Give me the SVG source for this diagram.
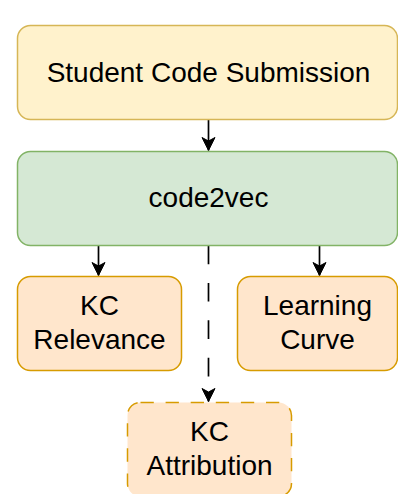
<svg xmlns="http://www.w3.org/2000/svg" width="398" height="494" viewBox="0 0 398 494">
<style>
text{font-family:"Liberation Sans",Arial,sans-serif;font-size:28px;fill:#000;text-anchor:middle}
.y{fill:#fff2cc;stroke:#d6b656;stroke-width:1.5}
.g{fill:#d5e8d4;stroke:#82b366;stroke-width:1.5}
.o{fill:#ffe6cc;stroke:#d79b00;stroke-width:1.5}
.dash{stroke-dasharray:13.3 11.8}
.c{stroke:#000;stroke-width:1.7;fill:none}
</style>
<defs>
<marker id="ah" markerUnits="userSpaceOnUse" markerWidth="16" markerHeight="16" viewBox="-14 -8 16 16" refX="0" refY="0" orient="auto">
<path d="M0,0 L-13,-6.5 L-9.5,0 L-13,6.5 Z" fill="#000" stroke="#000" stroke-width="1"/>
</marker>
</defs>
<g id="connectors">
<path class="c" d="M208.5,119.5 V150.5" marker-end="url(#ah)"/>
<path class="c" d="M98.5,245.5 V275.5" marker-end="url(#ah)"/>
<path class="c" d="M319.5,245.5 V275.5" marker-end="url(#ah)"/>
<path class="c" d="M208.5,245.5 V401.5" stroke-dasharray="18.7 18.7" marker-end="url(#ah)"/>
</g>
<g id="student">
<rect class="y" x="17.5" y="25.5" width="380" height="94" rx="13"/>
<text x="208.5" y="82">Student Code Submission</text>
</g>
<g id="code2vec">
<rect class="g" x="17.5" y="151.5" width="380" height="94" rx="13"/>
<text x="208.5" y="207">code2vec</text>
</g>
<g id="kc-relevance">
<rect class="o" x="17.5" y="276.5" width="164" height="94" rx="13"/>
<text x="99.5" y="315">KC</text>
<text x="99.5" y="349">Relevance</text>
</g>
<g id="learning-curve">
<rect class="o" x="237.5" y="276.5" width="160" height="94" rx="13"/>
<text x="317.5" y="315">Learning</text>
<text x="317.5" y="349">Curve</text>
</g>
<g id="kc-attribution">
<rect class="o dash" x="127.5" y="402.5" width="164" height="94" rx="13"/>
<text x="209.5" y="441">KC</text>
<text x="209.5" y="475">Attribution</text>
</g>
</svg>
